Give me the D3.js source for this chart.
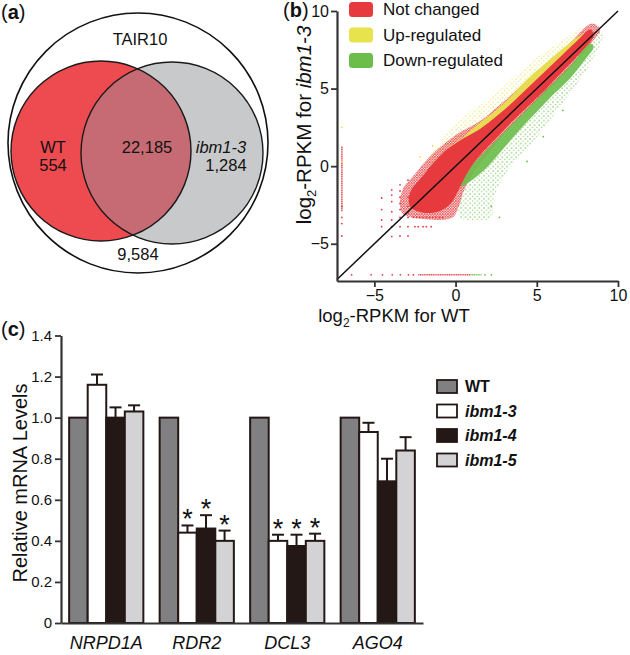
<!DOCTYPE html>
<html><head><meta charset="utf-8">
<script src="https://cdn.jsdelivr.net/npm/d3@7"></script>
<style>
html,body{margin:0;padding:0;background:#fff;}
svg{display:block;font-family:"Liberation Sans",Arial,Helvetica,sans-serif;}
</style></head><body>
<svg id="fig" width="630" height="655"></svg>
<script>
// ---------- DATA ----------
// (a) Venn
const vennSets = ["TAIR10", "WT", "ibm1-3"];
const vennCounts = { outside: 9584, wtOnly: 554, both: 22185, ibmOnly: 1284 };

// (b) scatter: legend categories
const scatterCats = ["Not changed", "Up-regulated", "Down-regulated"];
const scatterColors = ["#e63a3e", "#e6e34c", "#6cbd4a"];
const bTicks = [-5, 0, 5, 10];
// density clouds outlined in data units [log2 WT, log2 ibm1-3]
const yellowSparse = [[-1.8,0.2],[-1,1.5],[0,2.7],[1,3.6],[2,4.3],[3,5.2],[4,6.1],[5,7.0],[6,7.7],[7,8.4],[7.8,8.9],[8.2,8.6],[7,7.3],[5,5.4],[3,3.4],[1,1.5],[-1,-0.3]];
const yellowDense = [[-0.5,1.0],[0.5,1.9],[1.5,2.8],[2.5,3.6],[3.5,4.6],[4.5,5.7],[5.5,6.6],[6.5,7.5],[7.5,8.3],[8.1,8.6],[7.5,7.9],[5.5,5.9],[3.5,3.9],[1.5,1.9],[0,0.5]];
const greenSparse = [[0.3,-3.3],[2.2,-3.3],[2.3,-2.2],[3.2,-0.3],[4.8,1.6],[6.4,3.8],[7.6,5.5],[8.6,7.2],[9.1,8.5],[8.8,8.7],[7,6.6],[5,4.5],[3,2.4],[1.5,0.5],[0.5,-1]];
const greenDense = [[0.3,-1.3],[1,-0.9],[2,0.0],[3,1.2],[4,2.4],[5,3.5],[6,4.6],[7,5.6],[8,6.9],[8.5,7.7],[8.3,7.9],[7,6.4],[5,4.3],[3,2.2],[1.5,0.6],[0.5,-0.5]];
const redWide = [[-3.3,-1.6],[-2.5,-0.5],[-1.5,0.7],[-0.5,1.6],[0.3,2.2],[1.5,2.9],[3,4.2],[5,6.1],[7,7.9],[8.4,9.2],[8.9,8.8],[8.4,8.0],[7,6.3],[5,4.2],[3,2.1],[2,0.8],[1.2,-0.3],[0.5,-1.6],[0.2,-2.6],[-0.2,-3.3],[-2.0,-3.4],[-3.3,-3.0]];
const redCore = [[-2.8,-1.7],[-2.0,-0.6],[-1.2,0.4],[-0.5,1.1],[0.5,1.8],[1.5,2.4],[2.5,3.2],[3.5,4.1],[4.5,5.1],[5.5,6.1],[6.5,7.1],[7.5,8.1],[8.3,8.8],[8.5,8.4],[7.5,7.1],[6.5,6.0],[5.5,4.9],[4.5,3.9],[3.5,2.9],[2.5,1.8],[1.5,0.7],[0.8,-0.3],[0.2,-1.5],[-0.3,-2.4],[-1.0,-2.9],[-2.0,-3.0],[-2.8,-2.6]];
// individual sparse genes
const redDots = [[-4.55,-2.05],[-4.55,-2.8],[-4.55,-3.47],[-4.55,-3.9],
 [-3.93,-1.53],[-3.93,-1.86],[-3.93,-2.29],[-3.93,-2.93],[-3.93,-3.47],[-3.93,-3.9],[-3.93,-4.54],
 [-3.42,-1.2],[-3.42,-1.6],[-3.42,-2.0],[-3.42,-2.4],[-3.42,-2.8],[-3.42,-3.3],[-3.42,-3.9],[-3.42,-4.5],
 [-2.93,-0.9],[-2.93,-2.0],[-2.93,-2.6],[-2.93,-3.0],[-2.93,-3.3],[-2.93,-3.9],[-2.93,-4.5],
 [-2.6,-3.3],[-2.4,-3.3],[-2.2,-3.3],[-2.0,-3.3],[-1.8,-3.3],[-1.6,-3.3],[-1.4,-3.3],[-1.2,-3.3],[-1.0,-3.3],[-0.8,-3.3],
 [-2.5,-3.9],[-2.3,-3.9],[-2.0,-3.9],[-1.8,-3.9],[-1.5,-3.9],[-2.5,-2.6],[-2.1,-2.9],[-1.7,-2.6],
 [-6.4,-7],[-5.2,-7],[-4.5,-7],[-3.9,-7],[-3.4,-7],[-2.9,-7],[-2.6,-7],
 [-7,-3.3],[-7,-3.7],[-7,-4.5],[-7,-2.6]];
const yellowDots = [[-7,2.5],[-7,0.3],[-2.2,0.6],[-1.4,1.3]];
const greenDots = [[1.8,-7],[2.2,-7],[2.7,-3.3],[2.2,-2.6],[4.4,0.3],[6.6,3.6],[5.4,1.9]];
// dense runs of genes sharing a value: [x0,y0,x1,y1,category]
const runs = [[-2.3,-7,0.9,-7,0],[0.9,-7,1.6,-7,2],[-7,-2.9,-7,1.3,0]];

// (c) bar chart
const genes = ["NRPD1A", "RDR2", "DCL3", "AGO4"];
const lines = ["WT", "ibm1-3", "ibm1-4", "ibm1-5"];
const lineColors = ["#808082", "#ffffff", "#231815", "#d3d3d5"];
const levels = [
  [1.00, 1.16, 1.00, 1.03],
  [1.00, 0.44, 0.46, 0.40],
  [1.00, 0.40, 0.375, 0.40],
  [1.00, 0.93, 0.69, 0.84]
];
const errors = [
  [0, 0.05, 0.05, 0.03],
  [0, 0.035, 0.065, 0.05],
  [0, 0.03, 0.055, 0.035],
  [0, 0.045, 0.11, 0.065]
];
const significant = [
  [false, false, false, false],
  [false, true, true, true],
  [false, true, true, true],
  [false, false, false, false]
];
const cTicks = [0, 0.2, 0.4, 0.6, 0.8, 1.0, 1.2, 1.4];

// ---------- DRAW ----------
const svg = d3.select("#fig");
const AX = "#333";
const defs = svg.append("defs");

function panelLabel(x, y, letter) {
  const t = svg.append("text").attr("x", x).attr("y", y).attr("font-size", 20).attr("fill", "#111");
  t.append("tspan").text("(");
  t.append("tspan").attr("font-weight", "bold").text(letter);
  t.append("tspan").text(")");
}
panelLabel(1, 19, "a");
panelLabel(283, 17, "b");
panelLabel(1, 336, "c");

// ---- (a) Venn ----
const fmt = d3.format(",");
const A = svg.append("g");
const outer = { cx: 138, cy: 143, r: 130 };
const cWT = { cx: 101, cy: 151, r: 90 };
const cIbm = { cx: 172, cy: 153, r: 91 };
A.append("circle").attr("cx", outer.cx).attr("cy", outer.cy).attr("r", outer.r)
  .attr("fill", "#fff").attr("stroke", "#111").attr("stroke-width", 1.6);
A.append("circle").attr("cx", cWT.cx).attr("cy", cWT.cy).attr("r", cWT.r).attr("fill", "#ee4b51");
A.append("circle").attr("cx", cIbm.cx).attr("cy", cIbm.cy).attr("r", cIbm.r).attr("fill", "#c8c9cb");
defs.append("clipPath").attr("id", "clipWT").append("circle")
  .attr("cx", cWT.cx).attr("cy", cWT.cy).attr("r", cWT.r);
A.append("circle").attr("cx", cIbm.cx).attr("cy", cIbm.cy).attr("r", cIbm.r)
  .attr("fill", "#c66b73").attr("clip-path", "url(#clipWT)");
[cWT, cIbm].forEach(c => A.append("circle").attr("cx", c.cx).attr("cy", c.cy).attr("r", c.r)
  .attr("fill", "none").attr("stroke", "#1a1a1a").attr("stroke-width", 1.4));
const vt = (x, y, s, it) => A.append("text").attr("x", x).attr("y", y).attr("text-anchor", "middle")
  .attr("font-size", 16.5).attr("fill", "#111").attr("font-style", it ? "italic" : null).text(s);
vt(140, 45, vennSets[0]);
vt(53, 153, vennSets[1]);
vt(53, 171, fmt(vennCounts.wtOnly));
vt(147, 153, fmt(vennCounts.both));
vt(221, 153, vennSets[2], true);
vt(226, 171, fmt(vennCounts.ibmOnly));
vt(138, 260, fmt(vennCounts.outside));

// ---- (b) scatter ----
const xs = d3.scaleLinear([-7.3, 10], [337, 618]);
const ys = d3.scaleLinear([-7.4, 10], [281, 11]);
const B = svg.append("g");
// speckle textures
scatterColors.forEach((c, k) => {
  const ps = defs.append("pattern").attr("id", "sp" + k).attr("patternUnits", "userSpaceOnUse")
    .attr("width", 4.6).attr("height", 4.6);
  ps.append("circle").attr("cx", 1).attr("cy", 1).attr("r", 0.75).attr("fill", c);
  ps.append("circle").attr("cx", 3.4).attr("cy", 3.1).attr("r", 0.65).attr("fill", c);
  const pm = defs.append("pattern").attr("id", "md" + k).attr("patternUnits", "userSpaceOnUse")
    .attr("width", 2.6).attr("height", 2.6);
  pm.append("circle").attr("cx", 0.8).attr("cy", 0.8).attr("r", 0.85).attr("fill", c);
  pm.append("circle").attr("cx", 2.1).attr("cy", 2.0).attr("r", 0.7).attr("fill", c);
});
const cloud = d3.line().x(d => xs(d[0])).y(d => ys(d[1])).curve(d3.curveCatmullRomClosed.alpha(0.5));
defs.append("clipPath").attr("id", "clipB").append("rect")
  .attr("x", xs(-7.3)).attr("y", ys(10)).attr("width", xs(10) - xs(-7.3)).attr("height", ys(-7.4) - ys(10));
const clouds = [
  [yellowSparse, "url(#sp1)", 1], [greenSparse, "url(#sp2)", 1], [redWide, "url(#md0)", 1],
  [yellowDense, scatterColors[1], 0.9], [greenDense, scatterColors[2], 0.9], [redCore, scatterColors[0], 1]
];
const CG = B.append("g").attr("clip-path", "url(#clipB)");
clouds.forEach(([pts, fill, op]) => CG.append("path").attr("d", cloud(pts))
  .attr("fill", fill).attr("fill-opacity", op));
CG.selectAll(".run").data(runs).join("line")
  .attr("x1", d => xs(d[0])).attr("y1", d => ys(d[1])).attr("x2", d => xs(d[2])).attr("y2", d => ys(d[3]))
  .attr("stroke", d => scatterColors[d[4]]).attr("stroke-width", 1.6).attr("stroke-dasharray", "1.3 0.5")
  .attr("stroke-opacity", 0.85);
[[redDots, 0], [yellowDots, 1], [greenDots, 2]].forEach(([pts, k]) =>
  CG.selectAll(null).data(pts).join("circle").attr("cx", d => xs(d[0])).attr("cy", d => ys(d[1]))
    .attr("r", 0.9).attr("fill", scatterColors[k]));
// diagonal y = x
B.append("line").attr("x1", xs(-7.3)).attr("y1", ys(-7.3)).attr("x2", xs(10)).attr("y2", ys(10))
  .attr("stroke", "#111").attr("stroke-width", 1.5);
// axes
const bx = B.append("g").attr("transform", `translate(0,${ys(-7.4)})`)
  .call(d3.axisBottom(xs).tickValues(bTicks).tickSize(6).tickPadding(3).tickSizeOuter(0).tickFormat(d3.format("d")));
const by = B.append("g").attr("transform", `translate(${xs(-7.3)},0)`)
  .call(d3.axisLeft(ys).tickValues(bTicks).tickSize(6).tickPadding(2).tickSizeOuter(0).tickFormat(d3.format("d")));
[bx, by].forEach(g => {
  g.attr("font-family", null).attr("font-size", null);
  g.select(".domain").attr("stroke", AX).attr("stroke-width", 2.2);
  g.selectAll(".tick line").attr("stroke", AX).attr("stroke-width", 1.8);
  g.selectAll(".tick text").attr("font-size", 16).attr("fill", "#111");
});
// axis titles
const xt = B.append("text").attr("x", 394).attr("y", 322).attr("text-anchor", "middle")
  .attr("font-size", 18.5).attr("fill", "#111");
xt.append("tspan").text("log");
xt.append("tspan").attr("font-size", 12).attr("dy", 5).text("2");
xt.append("tspan").attr("dy", -5).text("-RPKM for WT");
const yt = B.append("text").attr("transform", "translate(311,125) rotate(-90)").attr("text-anchor", "middle")
  .attr("font-size", 20.5).attr("fill", "#111");
yt.append("tspan").text("log");
yt.append("tspan").attr("font-size", 13).attr("dy", 5).text("2");
yt.append("tspan").attr("dy", -5).text("-RPKM for ");
yt.append("tspan").attr("font-style", "italic").text("ibm1-3");
// legend
const bl = B.selectAll(".bleg").data(scatterCats).join("g")
  .attr("transform", (d, i) => `translate(349,${2 + i * 25.5})`);
bl.append("rect").attr("width", 24).attr("height", 15).attr("rx", 3.5).attr("fill", (d, i) => scatterColors[i]);
bl.append("text").attr("x", 34).attr("y", 13).attr("font-size", 17).attr("fill", "#111").text(d => d);

// ---- (c) bars ----
const C = svg.append("g");
const gx = d3.scaleBand(genes, [61, 423]).paddingInner(0.18).paddingOuter(0.09);
const sx = d3.scaleBand(lines, [0, gx.bandwidth()]);
const cy = d3.scaleLinear([0, 1.4], [623, 335.5]);
const groups = C.selectAll(".grp").data(genes).join("g")
  .attr("transform", d => `translate(${gx(d)},0)`);
groups.each(function (gene, gi) {
  const g = d3.select(this);
  lines.forEach((ln, li) => {
    const v = levels[gi][li], e = errors[gi][li];
    const x0 = sx(ln), w = sx.bandwidth(), xc = x0 + w / 2;
    if (e > 0) {
      g.append("line").attr("x1", xc).attr("x2", xc).attr("y1", cy(v)).attr("y2", cy(v + e))
        .attr("stroke", "#231815").attr("stroke-width", 2);
      g.append("line").attr("x1", xc - 6).attr("x2", xc + 6).attr("y1", cy(v + e)).attr("y2", cy(v + e))
        .attr("stroke", "#231815").attr("stroke-width", 2);
    }
    g.append("rect").attr("x", x0).attr("y", cy(v)).attr("width", w).attr("height", cy(0) - cy(v))
      .attr("fill", lineColors[li]).attr("stroke", "#231815").attr("stroke-width", 2);
    if (significant[gi][li]) {
      g.append("text").attr("x", xc).attr("y", cy(v + e) + 3).attr("text-anchor", "middle")
        .attr("font-size", 27).attr("fill", "#111").text("*");
    }
  });
});
const cxAxis = C.append("g").attr("transform", `translate(0,${cy(0)})`)
  .call(d3.axisBottom(gx).tickSize(0).tickPadding(0).tickSizeOuter(0));
const cyAxis = C.append("g").attr("transform", `translate(61,0)`)
  .call(d3.axisLeft(cy).tickValues(cTicks).tickSize(6).tickSizeOuter(0)
    .tickFormat(d => d === 0 ? "0" : d3.format(".1f")(d)));
[cxAxis, cyAxis].forEach(g => {
  g.attr("font-family", null).attr("font-size", null);
  g.select(".domain").attr("stroke", AX).attr("stroke-width", 2.2);
  g.selectAll(".tick line").attr("stroke", AX).attr("stroke-width", 1.8);
  g.selectAll(".tick text").attr("fill", "#111");
});
cyAxis.selectAll(".tick text").attr("font-size", 15);
cxAxis.selectAll(".tick text").attr("font-size", 18).attr("font-style", "italic").attr("y", 0).attr("dy", 26);
C.append("text").attr("transform", "translate(27,483) rotate(-90)").attr("text-anchor", "middle")
  .attr("font-size", 20).attr("fill", "#111").text("Relative mRNA Levels");
const cl = C.selectAll(".cleg").data(lines).join("g")
  .attr("transform", (d, i) => `translate(437,${380 + i * 24.5})`);
cl.append("rect").attr("width", 20).attr("height", 13).attr("fill", (d, i) => lineColors[i])
  .attr("stroke", "#231815").attr("stroke-width", 1.8);
cl.append("text").attr("x", 28).attr("y", 12).attr("font-size", 16).attr("fill", "#111")
  .attr("font-style", (d, i) => i ? "italic" : null).attr("font-weight", "bold").text(d => d);
</script>
</body></html>
